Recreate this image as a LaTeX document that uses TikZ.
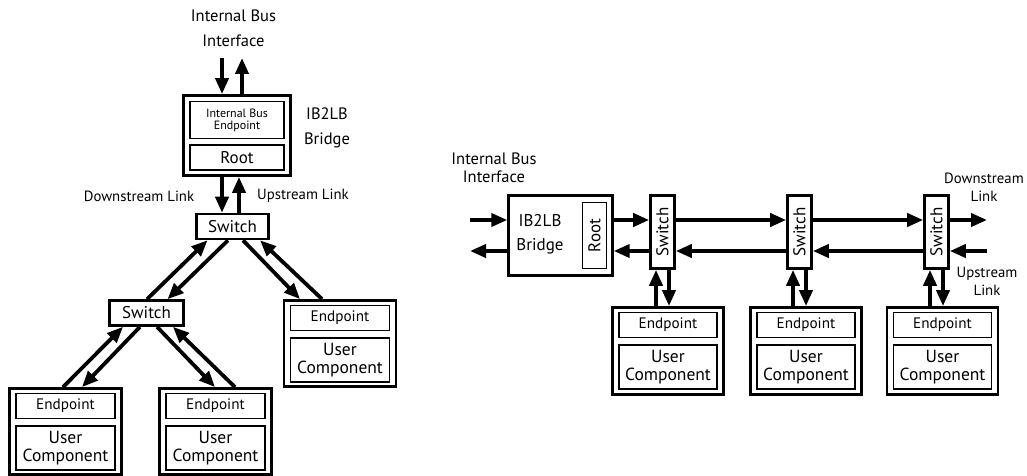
\documentclass[tikz,border=0pt]{standalone}
\usepackage{fontspec}
\setmainfont{PT Sans}
\usetikzlibrary{arrows.meta,calc}

\begin{document}
\begin{tikzpicture}[x=1pt,y=-1pt,
  arr/.style={line width=3.8pt,-{Triangle[length=16pt,width=13pt]}},
  outerbox/.style={draw,line width=2.8pt,inner sep=0pt},
  innerbox/.style={draw,line width=1.4pt,inner sep=0pt,align=center},
  swbox/.style={draw,line width=2.6pt,inner sep=0pt,fill=white,font=\fontsize{17}{18}\selectfont},
  biglbl/.style={font=\fontsize{16.5}{25}\selectfont,align=center,inner sep=0pt},
  linklbl/.style={font=\fontsize{14.8}{18}\selectfont,align=center,inner sep=0pt},
  eptext/.style={font=\fontsize{15.2}{16}\selectfont},
  uctext/.style={font=\fontsize{17.5}{18.5}\selectfont},
]
\useasboundingbox (0,0) rectangle (1027,476);

% ---------- tree topology ----------
\node[biglbl] (lifc) at (233.5,28) {Internal Bus\\Interface};
\coordinate (ltop) at (237,58);

\node[outerbox,minimum width=107pt,minimum height=80pt] (lbridge) at (237,135.5) {};
\node[innerbox,minimum width=94pt,minimum height=37pt,font=\fontsize{12}{12}\selectfont] (libe) at (237,120) {Internal Bus\\Endpoint};
\node[innerbox,minimum width=94pt,minimum height=25pt,font=\fontsize{17}{18}\selectfont] (lroot) at (237,157.5) {Root};
\node[biglbl] (lbrlbl) at (327,128) {IB2LB\\Bridge};

\node[swbox,minimum width=72pt,minimum height=25pt] (lsw1) at (232.5,226.5) {Switch};
\node[swbox,minimum width=74pt,minimum height=25pt] (lsw2) at (146.5,313) {Switch};

\node[linklbl] (ldown) at (139,196) {Downstream Link};
\node[linklbl] (lup) at (303,196) {Upstream Link};

% endpoint modules
\foreach \n/\cx/\cy in {lE1/65.5/431.5, lE2/215.5/431.5, lE3/340/343.5}{
  \node[outerbox,minimum width=112pt,minimum height=86pt] (\n) at (\cx,\cy) {};
  \node[innerbox,eptext,minimum width=99pt,minimum height=25pt] (\n ep) at ($(\n.north)+(0,19)$) {Endpoint};
  \node[innerbox,uctext,minimum width=99pt,minimum height=44pt] (\n uc) at ($(\n.south)+(0,-28)$) {User\\Component};
}

% links of the tree
\draw[arr] ([xshift=-15pt]lbridge.north |- ltop) -- ([xshift=-15pt]lbridge.north);
\draw[arr] ([xshift=5pt]lbridge.north) -- ([xshift=5pt]lbridge.north |- ltop);

\draw[arr] ([xshift=-15pt]lbridge.south) -- ([xshift=-15pt]lbridge.south |- lsw1.north);
\draw[arr] ([xshift=2pt]lbridge.south |- lsw1.north) -- ([xshift=2pt]lbridge.south);

\draw[arr] ([xshift=0.5pt]lsw2.north) -- ([xshift=-25pt]lsw1.south);
\draw[arr] ([xshift=-4.5pt]lsw1.south) -- ([xshift=21pt]lsw2.north);

\draw[arr] ([xshift=10.5pt]lsw1.south) -- ([xshift=-40pt]lE3.north);
\draw[arr] ([xshift=-18pt]lE3.north) -- ([xshift=27.5pt]lsw1.south);

\draw[arr] ([xshift=-2.5pt]lE1.north) -- ([xshift=-23.5pt]lsw2.south);
\draw[arr] ([xshift=-6.5pt]lsw2.south) -- ([xshift=16.5pt]lE1.north);

\draw[arr] ([xshift=10.5pt]lsw2.south) -- ([xshift=-0.5pt]lE2.north);
\draw[arr] ([xshift=19.5pt]lE2.north) -- ([xshift=26.5pt]lsw2.south);

% ---------- daisy chain ----------
\node[biglbl,font=\fontsize{16.5}{18}\selectfont] (rifc) at (494,168) {Internal Bus\\Interface};
\coordinate (rowD) at (0,220);
\coordinate (rowU) at (0,251);
\coordinate (rleft) at (470,0);
\coordinate (rright) at (987,0);

\node[outerbox,line width=2.4pt,minimum width=104pt,minimum height=80pt] (rbridge) at (560.5,235.5) {};
\node[biglbl,font=\fontsize{17}{24}\selectfont] (rbrlbl) at (540,234) {IB2LB\\Bridge};
\node[draw,line width=1.3pt,inner sep=0pt,minimum width=24pt,minimum height=66pt] (rroot) at (594.5,235.5) {};
\node[rotate=90,font=\fontsize{17}{18}\selectfont,inner sep=0pt] (rrootlbl) at (rroot.center) {Root};

\foreach \n/\cx in {rsw1/662.5, rsw2/799.5, rsw3/936.5}{
  \node[swbox,minimum width=24pt,minimum height=73pt] (\n) at (\cx,232) {};
  \node[rotate=90,font=\fontsize{17}{18}\selectfont,inner sep=0pt] (\n lbl) at (\n.center) {Switch};
}

\foreach \n/\cx in {rE1/668, rE2/806, rE3/942.5}{
  \node[outerbox,minimum width=111pt,minimum height=87pt] (\n) at (\cx,351) {};
  \node[innerbox,eptext,minimum width=98pt,minimum height=25pt] (\n ep) at ($(\n.north)+(0,19)$) {Endpoint};
  \node[innerbox,uctext,minimum width=98pt,minimum height=44pt] (\n uc) at ($(\n.south)+(0,-29)$) {User\\Component};
}

\node[linklbl] (rdown) at (984,187) {Downstream\\Link};
\node[linklbl] (rup) at (987,281) {Upstream\\Link};

% links of the chain
\draw[arr] (rleft |- rowD) -- (rbridge.west |- rowD);
\draw[arr] (rbridge.west |- rowU) -- (rleft |- rowU);
\draw[arr] (rbridge.east |- rowD) -- (rsw1.west |- rowD);
\draw[arr] (rsw1.west |- rowU) -- (rbridge.east |- rowU);
\draw[arr] (rsw1.east |- rowD) -- (rsw2.west |- rowD);
\draw[arr] (rsw2.west |- rowU) -- (rsw1.east |- rowU);
\draw[arr] (rsw2.east |- rowD) -- (rsw3.west |- rowD);
\draw[arr] (rsw3.west |- rowU) -- (rsw2.east |- rowU);
\draw[arr] (rsw3.east |- rowD) -- (rright |- rowD);
\draw[arr] (rright |- rowU) -- (rsw3.east |- rowU);

\foreach \s/\e in {rsw1/rE1, rsw2/rE2, rsw3/rE3}{
  \draw[arr] ([xshift=-6.5pt]\s.south |- \e.north) -- ([xshift=-6.5pt]\s.south);
  \draw[arr] ([xshift=6.5pt]\s.south) -- ([xshift=6.5pt]\s.south |- \e.north);
}
\end{tikzpicture}
\end{document}
